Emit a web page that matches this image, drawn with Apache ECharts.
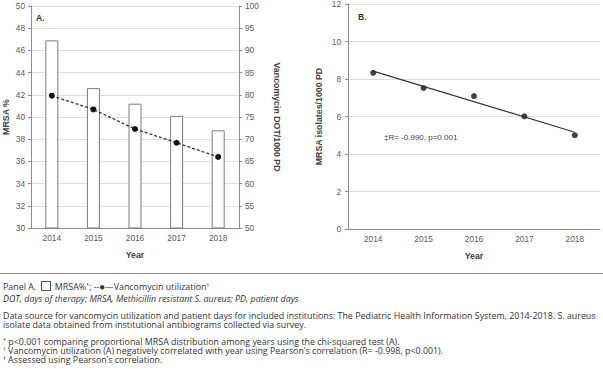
<!DOCTYPE html>
<html>
<head>
<meta charset="utf-8">
<script src="https://cdn.jsdelivr.net/npm/echarts@6/dist/echarts.min.js"></script>
<style>
  html, body { margin: 0; padding: 0; background: #fff; }
  #wrap { position: relative; width: 603px; height: 386px; overflow: hidden; }
  #chart { position: absolute; left: 0; top: 0; width: 603px; height: 270px; }
  #sep { position: absolute; left: 0; top: 273px; width: 603px; height: 1px; background: #8a8a8a; }
  .note { position: absolute; left: 3px; font-family: "Open Sans", Lato, sans-serif; font-size: 8.9px; color: #333; white-space: nowrap; line-height: 9px; }
  .box { display: inline-block; width: 8px; height: 8px; border: 1px solid #555; vertical-align: -1px; margin: 0 2px; }
  sup { font-size: 5.5px; vertical-align: 3px; line-height: 0; }
</style>
</head>
<body>
<div id="wrap">
  <div id="chart"></div>
  <div id="sep"></div>
  <div class="note" style="top:281px">Panel A. <span class="box"></span> MRSA%<sup>*</sup>; --●—Vancomycin utilization<sup>†</sup></div>
  <div class="note" style="top:294px;font-style:italic">DOT, days of therapy; MRSA, Methicillin resistant S. aureus; PD, patient days</div>
  <div class="note" style="top:311px">Data source for vancomycin utilization and patient days for included institutions: The Pediatric Health Information System, 2014-2018. S. aureus<br>isolate data obtained from institutional antibiograms collected via survey.</div>
  <div class="note" style="top:337px"><sup>*</sup> p&lt;0.001 comparing proportional MRSA distribution among years using the chi-squared test (A).<br><sup>†</sup> Vancomycin utilization (A) negatively correlated with year using Pearson’s correlation (R= -0.998, p&lt;0.001).<br><sup>‡</sup> Assessed using Pearson’s correlation.</div>
</div>
<script>
// data
const years = ['2014', '2015', '2016', '2017', '2018'];
const mrsaPct = [46.9, 42.6, 41.2, 40.1, 38.8];
const vancoDot = [79.8, 76.7, 72.3, 69.2, 66.0];
const mrsaIsolates = [8.33, 7.52, 7.09, 6.01, 5.0];
const isolatesTrend = [8.42, null, null, null, 5.16];

const chart = echarts.init(document.getElementById('chart'), null, { renderer: 'svg' });

const labelStyle = { color: '#595959', fontSize: 8.3, fontFamily: 'Liberation Sans, Arial, sans-serif' };
const nameStyle = { color: '#404040', fontSize: 8.8, fontWeight: 'bold', fontFamily: 'Liberation Sans, Arial, sans-serif' };
const axisLine = { show: true, lineStyle: { color: '#8c8c8c', width: 1 } };
const gridLine = { show: true, lineStyle: { color: '#dcdcdc', width: 1 } };

const option = {
  animation: false,
  grid: [
    { left: 27, top: 6, width: 212, height: 222 },
    { left: 348, top: 3, width: 252, height: 226 }
  ],
  xAxis: [
    {
      gridIndex: 0, type: 'category', data: years,
      name: 'Year', nameLocation: 'middle', nameGap: 22, nameTextStyle: nameStyle,
      axisLine: axisLine, axisTick: { show: false },
      axisLabel: Object.assign({ margin: 6 }, labelStyle)
    },
    {
      gridIndex: 1, type: 'category', data: years,
      name: 'Year', nameLocation: 'middle', nameGap: 22, nameTextStyle: nameStyle,
      axisLine: axisLine, axisTick: { show: false },
      axisLabel: Object.assign({ margin: 6 }, labelStyle)
    }
  ],
  yAxis: [
    {
      gridIndex: 0, type: 'value', min: 30, max: 50, interval: 2,
      name: 'MRSA %', nameLocation: 'middle', nameGap: 21, nameTextStyle: nameStyle,
      axisLine: axisLine, axisTick: { show: true, length: 3, lineStyle: { color: '#8c8c8c' } },
      axisLabel: Object.assign({ margin: 6 }, labelStyle),
      splitLine: gridLine
    },
    {
      gridIndex: 0, type: 'value', position: 'right', min: 50, max: 100, interval: 5,
      name: 'Vancomycin DOT/1000 PD', nameLocation: 'middle', nameGap: 33, nameRotate: -90,
      nameTextStyle: nameStyle,
      axisLine: axisLine, axisTick: { show: true, length: 3, lineStyle: { color: '#8c8c8c' } },
      axisLabel: Object.assign({ margin: 6 }, labelStyle),
      splitLine: { show: false }
    },
    {
      gridIndex: 1, type: 'value', min: 0, max: 12, interval: 2,
      name: 'MRSA isolates/1000 PD', nameLocation: 'middle', nameGap: 25, nameTextStyle: nameStyle,
      axisLine: axisLine, axisTick: { show: true, length: 3, lineStyle: { color: '#8c8c8c' } },
      axisLabel: Object.assign({ margin: 7 }, labelStyle),
      splitLine: gridLine
    }
  ],
  series: [
    {
      type: 'bar', xAxisIndex: 0, yAxisIndex: 0, data: mrsaPct, barWidth: 13,
      itemStyle: { color: '#fff', borderColor: '#7a7a7a', borderWidth: 1 }
    },
    {
      type: 'line', xAxisIndex: 0, yAxisIndex: 1, data: vancoDot,
      symbol: 'circle', symbolSize: 6,
      lineStyle: { color: '#333', width: 1.3, type: [3, 2] },
      itemStyle: { color: '#111' }
    },
    {
      type: 'line', xAxisIndex: 1, yAxisIndex: 2, data: isolatesTrend, connectNulls: true,
      showSymbol: false, symbol: 'none',
      lineStyle: { color: '#333', width: 1.2 }
    },
    {
      type: 'scatter', xAxisIndex: 1, yAxisIndex: 2, data: mrsaIsolates,
      symbolSize: 6, itemStyle: { color: '#111' }
    }
  ],
  graphic: [
    { type: 'text', left: 36, top: 13, style: { text: 'A.', fill: '#333', font: 'bold 8.5px Liberation Sans, Arial, sans-serif' } },
    { type: 'text', left: 358, top: 12, style: { text: 'B.', fill: '#333', font: 'bold 8.5px Liberation Sans, Arial, sans-serif' } },
    { type: 'text', left: 384, top: 133, style: { text: '‡R= -0.990, p=0.001', fill: '#444', font: '8px Liberation Sans, Arial, sans-serif' } }
  ]
};

chart.setOption(option);
</script>
</body>
</html>
